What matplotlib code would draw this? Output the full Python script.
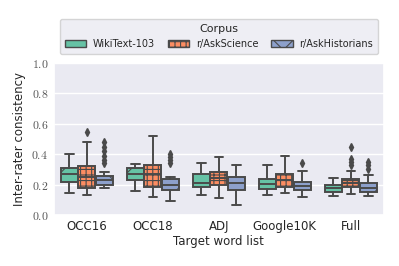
import numpy as np
import matplotlib
matplotlib.use("Agg")
import matplotlib.pyplot as plt
import matplotlib.patches as mpatches
import seaborn as sns

# Target word lists and corpora
categories = ["OCC16", "OCC18", "ADJ", "Google10K", "Full"]
corpora = ["WikiText-103", "r/AskScience", "r/AskHistorians"]

# Box statistics, one list per corpus (order = categories)
wiki_q1 = [0.22, 0.23, 0.186, 0.169, 0.153]
wiki_med = [0.27, 0.27, 0.21, 0.205, 0.175]
wiki_q3 = [0.307, 0.307, 0.272, 0.235, 0.197]
wiki_lo = [0.147, 0.158, 0.132, 0.13, 0.125]
wiki_hi = [0.404, 0.333, 0.34, 0.331, 0.245]
wiki_fliers = [[], [], [], [], []]

sci_q1 = [0.175, 0.186, 0.197, 0.186, 0.186]
sci_med = [0.25, 0.27, 0.24, 0.23, 0.21]
sci_q3 = [0.32, 0.331, 0.28, 0.27, 0.235]
sci_lo = [0.134, 0.118, 0.114, 0.143, 0.138]
sci_hi = [0.48, 0.52, 0.384, 0.386, 0.292]
sci_fliers = [[0.544], [], [], [], [0.45, 0.37, 0.35, 0.33]]

hist_q1 = [0.196, 0.164, 0.164, 0.164, 0.153]
hist_med = [0.23, 0.195, 0.21, 0.19, 0.18]
hist_q3 = [0.259, 0.237, 0.252, 0.219, 0.213]
hist_lo = [0.175, 0.092, 0.066, 0.12, 0.125]
hist_hi = [0.28, 0.252, 0.327, 0.292, 0.263]
hist_fliers = [[0.48, 0.45, 0.42, 0.39, 0.36, 0.34], [0.40, 0.38, 0.36, 0.34],
               [], [0.34], [0.35, 0.33, 0.30]]

colors = ["#66c2a5", "#fc8d62", "#8da0cb"]
hatches = ["/", "+++", "x"]
EDGE = "#4a4a4a"

sns.set_theme(style="darkgrid")
plt.rcParams["font.family"] = ["DejaVu Sans"]
plt.rcParams["mathtext.fontset"] = "cm"
plt.rcParams["hatch.linewidth"] = 0.8


def make_stats(q1, med, q3, lo, hi, fl):
    return [dict(q1=a, med=b, q3=c, whislo=d, whishi=e, fliers=f)
            for a, b, c, d, e, f in zip(q1, med, q3, lo, hi, fl)]


groups = [
    make_stats(wiki_q1, wiki_med, wiki_q3, wiki_lo, wiki_hi, wiki_fliers),
    make_stats(sci_q1, sci_med, sci_q3, sci_lo, sci_hi, sci_fliers),
    make_stats(hist_q1, hist_med, hist_q3, hist_lo, hist_hi, hist_fliers),
]

fig = plt.figure(figsize=(3.99, 2.66), dpi=100)
ax = fig.add_axes([0.135, 0.192, 0.827, 0.571])

base = np.arange(len(categories))
offsets = [-0.267, 0.0, 0.267]
for stats, off, col, hat in zip(groups, offsets, colors, hatches):
    ax.bxp(stats, positions=base + off, widths=0.26, patch_artist=True,
           showfliers=True,
           boxprops=dict(facecolor=col, edgecolor=EDGE, linewidth=1.4, hatch=hat),
           medianprops=dict(color=EDGE, linewidth=1.4),
           whiskerprops=dict(color=EDGE, linewidth=1.4),
           capprops=dict(color=EDGE, linewidth=1.4),
           flierprops=dict(marker="d", markerfacecolor=EDGE,
                           markeredgecolor=EDGE, markersize=4))

ax.set_xlim(-0.5, len(categories) - 0.5)
ax.set_ylim(0, 1.0)
ax.set_xticks(base)
ax.set_xticklabels(categories, fontsize=8.5)
yt = np.arange(0, 1.01, 0.2)
ax.set_yticks(yt)
ax.set_yticklabels([f"${v:.1f}$" for v in yt], fontsize=8.5, color="#555555")
ax.tick_params(axis="both", length=0, pad=4)
ax.xaxis.grid(False)
ax.set_xlabel("Target word list", fontsize=8.5, labelpad=1)
ax.set_ylabel("Inter-rater consistency", fontsize=8.5)

handles = [mpatches.Patch(facecolor=c, edgecolor=EDGE, hatch=h, linewidth=1.0, label=n)
           for c, h, n in zip(colors, hatches, corpora)]
leg = fig.legend(handles=handles, title="Corpus", ncol=3, loc="upper center",
                 bbox_to_anchor=(0.549, 0.945), fontsize=7, title_fontsize=8,
                 handlelength=2.2, handleheight=0.7, columnspacing=1.3,
                 handletextpad=0.7, borderpad=0.5, frameon=True)

fig.savefig("out.png", dpi=100)
